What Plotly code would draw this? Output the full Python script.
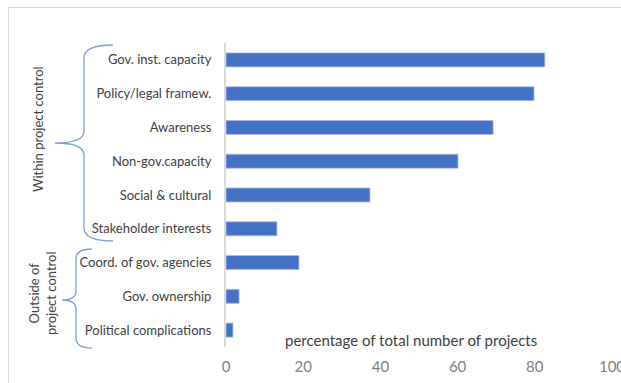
import plotly.graph_objects as go

categories = ["Gov. inst. capacity", "Policy/legal framew.", "Awareness", "Non-gov.capacity",
              "Social & cultural", "Stakeholder interests", "Coord. of gov. agencies",
              "Gov. ownership", "Political complications"]
values = [82.6, 79.8, 69.2, 60.1, 37.3, 13.2, 18.9, 3.4, 1.8]
x_ticks = [0, 20, 40, 60, 80, 100]

W, H = 621, 383
def X(px): return px / W
def Y(py): return 1 - py / H

fig = go.Figure(go.Bar(
    y=categories, x=values, orientation="h",
    marker=dict(color="#4472C4", line=dict(color="#a9bfe6", width=0.8)),
))

brace_col = "#7f9fd8"

top_brace = (f"M {X(113)} {Y(45)} Q {X(84)} {Y(45)} {X(84)} {Y(58)} L {X(84)} {Y(131)} "
             f"Q {X(84)} {Y(143)} {X(55)} {Y(143)} Q {X(84)} {Y(143)} {X(84)} {Y(155)} "
             f"L {X(84)} {Y(228)} Q {X(84)} {Y(241)} {X(113)} {Y(241)}")
bot_brace = (f"M {X(92)} {Y(249)} Q {X(76)} {Y(249)} {X(76)} {Y(259)} L {X(76)} {Y(291)} "
             f"Q {X(76)} {Y(300)} {X(62)} {Y(300)} Q {X(76)} {Y(300)} {X(76)} {Y(309)} "
             f"L {X(76)} {Y(338)} Q {X(76)} {Y(348)} {X(92)} {Y(348)}")

shapes = [
    dict(type="rect", xref="paper", yref="paper", x0=X(8.5), x1=X(640), y0=Y(7.5), y1=Y(400),
         line=dict(color="#d9d9d9", width=1), fillcolor="rgba(0,0,0,0)", layer="below"),
    dict(type="path", xref="paper", yref="paper", path=top_brace, line=dict(color=brace_col, width=1.3)),
    dict(type="path", xref="paper", yref="paper", path=bot_brace, line=dict(color=brace_col, width=1.3)),
]

annotations = [
    dict(text="percentage of total number of projects", xref="paper", yref="paper",
         x=X(411.5), y=Y(340), xanchor="center", yanchor="middle", showarrow=False,
         font=dict(family="Lato", size=15, color="#404040")),
    dict(text="Within project control", xref="paper", yref="paper", x=X(38), y=Y(129),
         xanchor="center", yanchor="middle", textangle=-90, showarrow=False,
         font=dict(family="Lato", size=13, color="#404040")),
    dict(text="Outside of<br>project control", xref="paper", yref="paper", x=X(42), y=Y(293),
         xanchor="center", yanchor="middle", textangle=-90, showarrow=False,
         font=dict(family="Lato", size=13, color="#404040")),
]

fig.update_layout(
    width=W, height=H, margin=dict(l=0, r=0, t=0, b=0),
    paper_bgcolor="white", plot_bgcolor="white",
    showlegend=False, bargap=0.586,
    shapes=shapes, annotations=annotations,
    xaxis=dict(domain=[X(226), X(612)], range=[0, 100], tickvals=x_ticks,
               showgrid=False, zeroline=False, showline=False,
               ticks="outside", ticklen=6, tickcolor="rgba(0,0,0,0)",
               ticklabeloverflow="allow",
               tickfont=dict(family="Lato", size=15, color="#7f7f7f"), automargin=False),
    yaxis=dict(domain=[Y(347), Y(43)], categoryorder="array", categoryarray=categories,
               range=[8.5, -0.5], showgrid=False, zeroline=False,
               showline=True, linecolor="#d9d9d9", linewidth=2,
               ticks="outside", ticklen=10, tickcolor="rgba(0,0,0,0)",
               tickfont=dict(family="Lato", size=13, color="#404040"), automargin=False),
)

fig.write_html("out.html")
